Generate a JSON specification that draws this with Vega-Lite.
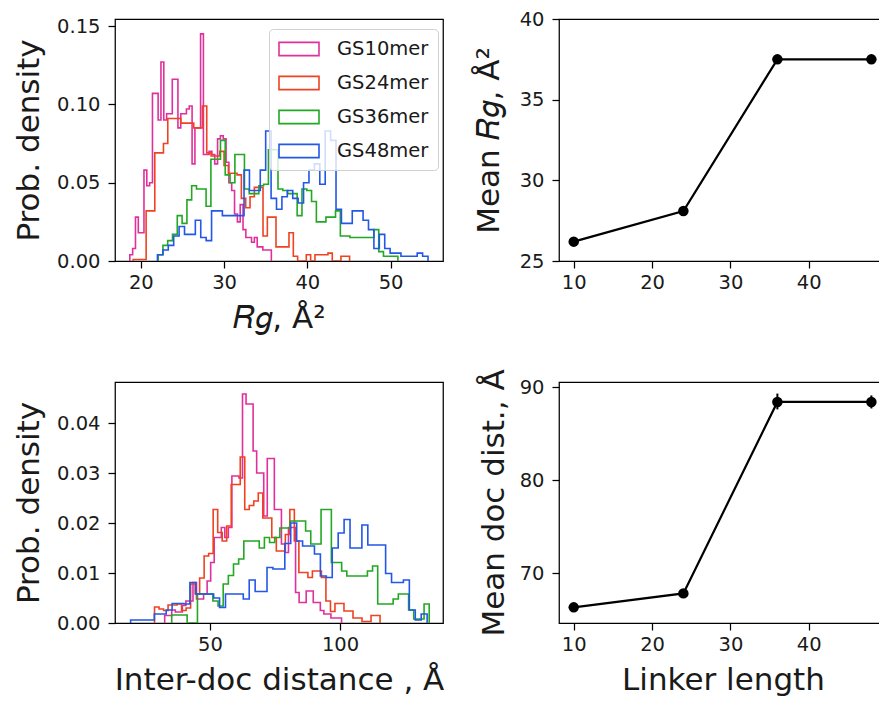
{
  "$schema": "https://vega.github.io/schema/vega-lite/v6.json",
  "padding": {"left": 12, "top": 8, "right": 0, "bottom": 0},
  "background": "white",
  "config": {
    "font": "DejaVu Sans",
    "view": {"stroke": "#000000", "strokeWidth": 1.25},
    "axis": {"domain": false, "grid": false, "ticks": true, "tickColor": "#000000", "tickSize": 7, "tickWidth": 1.25, "labelFontSize": 19.5, "labelColor": "#1a1a1a", "titleFontSize": 31, "titleFontWeight": "normal", "titleColor": "#1a1a1a", "labelFlush": false, "labelOverlap": false, "labelBound": false},
    "axisY": {"labelPadding": 8},
    "axisX": {"labelPadding": 5}
  },
  "datasets": {
    "rg": [
      {"s":"GS10mer","i":0,"x":18.68,"d":0},{"s":"GS10mer","i":1,"x":18.68,"d":0.004},{"s":"GS10mer","i":2,"x":19.02,"d":0.008},{"s":"GS10mer","i":3,"x":19.36,"d":0.028},{"s":"GS10mer","i":4,"x":19.70,"d":0.018},{"s":"GS10mer","i":5,"x":20.04,"d":0.018},{"s":"GS10mer","i":6,"x":20.38,"d":0.058},{"s":"GS10mer","i":7,"x":20.72,"d":0.048},{"s":"GS10mer","i":8,"x":21.06,"d":0.050},{"s":"GS10mer","i":9,"x":21.40,"d":0.107},{"s":"GS10mer","i":10,"x":21.74,"d":0.107},{"s":"GS10mer","i":11,"x":22.08,"d":0.090},{"s":"GS10mer","i":12,"x":22.42,"d":0.127},{"s":"GS10mer","i":13,"x":22.76,"d":0.090},{"s":"GS10mer","i":14,"x":23.10,"d":0.094},{"s":"GS10mer","i":15,"x":23.44,"d":0.094},{"s":"GS10mer","i":16,"x":23.78,"d":0.116},{"s":"GS10mer","i":17,"x":24.12,"d":0.116},{"s":"GS10mer","i":18,"x":24.46,"d":0.085},{"s":"GS10mer","i":19,"x":24.80,"d":0.094},{"s":"GS10mer","i":20,"x":25.14,"d":0.094},{"s":"GS10mer","i":21,"x":25.48,"d":0.097},{"s":"GS10mer","i":22,"x":25.82,"d":0.099},{"s":"GS10mer","i":23,"x":26.16,"d":0.062},{"s":"GS10mer","i":24,"x":26.50,"d":0.085},{"s":"GS10mer","i":25,"x":26.84,"d":0.085},{"s":"GS10mer","i":26,"x":27.18,"d":0.145},{"s":"GS10mer","i":27,"x":27.52,"d":0.068},{"s":"GS10mer","i":28,"x":27.86,"d":0.068},{"s":"GS10mer","i":29,"x":28.20,"d":0.070},{"s":"GS10mer","i":30,"x":28.54,"d":0.068},{"s":"GS10mer","i":31,"x":28.88,"d":0.062},{"s":"GS10mer","i":32,"x":29.22,"d":0.078},{"s":"GS10mer","i":33,"x":29.56,"d":0.080},{"s":"GS10mer","i":34,"x":29.90,"d":0.078},{"s":"GS10mer","i":35,"x":30.24,"d":0.063},{"s":"GS10mer","i":36,"x":30.58,"d":0.050},{"s":"GS10mer","i":37,"x":30.92,"d":0.045},{"s":"GS10mer","i":38,"x":31.26,"d":0.030},{"s":"GS10mer","i":39,"x":31.60,"d":0.025},{"s":"GS10mer","i":40,"x":31.94,"d":0.036},{"s":"GS10mer","i":41,"x":32.28,"d":0.020},{"s":"GS10mer","i":42,"x":32.62,"d":0.015},{"s":"GS10mer","i":43,"x":32.96,"d":0.015},{"s":"GS10mer","i":44,"x":33.30,"d":0.012},{"s":"GS10mer","i":45,"x":33.64,"d":0.015},{"s":"GS10mer","i":46,"x":33.98,"d":0.009},{"s":"GS10mer","i":47,"x":34.32,"d":0.009},{"s":"GS10mer","i":48,"x":34.66,"d":0.007},{"s":"GS10mer","i":49,"x":35.00,"d":0.007},{"s":"GS10mer","i":50,"x":35.34,"d":0.007},{"s":"GS10mer","i":51,"x":35.68,"d":0},
      {"s":"GS24mer","i":0,"x":19.08,"d":0},{"s":"GS24mer","i":1,"x":19.08,"d":0.001},{"s":"GS24mer","i":2,"x":19.60,"d":0.001},{"s":"GS24mer","i":3,"x":20.12,"d":0.001},{"s":"GS24mer","i":4,"x":20.64,"d":0.032},{"s":"GS24mer","i":5,"x":21.16,"d":0.032},{"s":"GS24mer","i":6,"x":21.68,"d":0.069},{"s":"GS24mer","i":7,"x":22.20,"d":0.069},{"s":"GS24mer","i":8,"x":22.72,"d":0.075},{"s":"GS24mer","i":9,"x":23.24,"d":0.091},{"s":"GS24mer","i":10,"x":23.76,"d":0.091},{"s":"GS24mer","i":11,"x":24.28,"d":0.091},{"s":"GS24mer","i":12,"x":24.80,"d":0.088},{"s":"GS24mer","i":13,"x":25.32,"d":0.088},{"s":"GS24mer","i":14,"x":25.84,"d":0.088},{"s":"GS24mer","i":15,"x":26.36,"d":0.085},{"s":"GS24mer","i":16,"x":26.88,"d":0.085},{"s":"GS24mer","i":17,"x":27.40,"d":0.099},{"s":"GS24mer","i":18,"x":27.92,"d":0.069},{"s":"GS24mer","i":19,"x":28.44,"d":0.067},{"s":"GS24mer","i":20,"x":28.96,"d":0.067},{"s":"GS24mer","i":21,"x":29.48,"d":0.070},{"s":"GS24mer","i":22,"x":30.00,"d":0.061},{"s":"GS24mer","i":23,"x":30.52,"d":0.056},{"s":"GS24mer","i":24,"x":31.04,"d":0.056},{"s":"GS24mer","i":25,"x":31.56,"d":0.055},{"s":"GS24mer","i":26,"x":32.08,"d":0.040},{"s":"GS24mer","i":27,"x":32.60,"d":0.034},{"s":"GS24mer","i":28,"x":33.12,"d":0.041},{"s":"GS24mer","i":29,"x":33.64,"d":0.047},{"s":"GS24mer","i":30,"x":34.16,"d":0.047},{"s":"GS24mer","i":31,"x":34.68,"d":0.016},{"s":"GS24mer","i":32,"x":35.20,"d":0.028},{"s":"GS24mer","i":33,"x":35.72,"d":0.028},{"s":"GS24mer","i":34,"x":36.24,"d":0.009},{"s":"GS24mer","i":35,"x":36.76,"d":0.009},{"s":"GS24mer","i":36,"x":37.28,"d":0.009},{"s":"GS24mer","i":37,"x":37.80,"d":0.018},{"s":"GS24mer","i":38,"x":38.32,"d":0.003},{"s":"GS24mer","i":39,"x":38.84,"d":0},{"s":"GS24mer","i":40,"x":39.36,"d":0},{"s":"GS24mer","i":41,"x":39.88,"d":0.004},{"s":"GS24mer","i":42,"x":40.40,"d":0},{"s":"GS24mer","i":43,"x":40.92,"d":0.004},{"s":"GS24mer","i":44,"x":41.44,"d":0.004},{"s":"GS24mer","i":45,"x":41.96,"d":0.004},{"s":"GS24mer","i":46,"x":42.48,"d":0.005},{"s":"GS24mer","i":47,"x":43.00,"d":0},{"s":"GS24mer","i":48,"x":43.52,"d":0},{"s":"GS24mer","i":49,"x":44.04,"d":0.003},{"s":"GS24mer","i":50,"x":44.56,"d":0.003},{"s":"GS24mer","i":51,"x":45.08,"d":0},
      {"s":"GS36mer","i":0,"x":22.08,"d":0},{"s":"GS36mer","i":1,"x":22.08,"d":0.004},{"s":"GS36mer","i":2,"x":22.66,"d":0.010},{"s":"GS36mer","i":3,"x":23.23,"d":0.013},{"s":"GS36mer","i":4,"x":23.81,"d":0.017},{"s":"GS36mer","i":5,"x":24.38,"d":0.029},{"s":"GS36mer","i":6,"x":24.96,"d":0.024},{"s":"GS36mer","i":7,"x":25.54,"d":0.039},{"s":"GS36mer","i":8,"x":26.11,"d":0.048},{"s":"GS36mer","i":9,"x":26.69,"d":0.046},{"s":"GS36mer","i":10,"x":27.26,"d":0.046},{"s":"GS36mer","i":11,"x":27.84,"d":0.035},{"s":"GS36mer","i":12,"x":28.42,"d":0.065},{"s":"GS36mer","i":13,"x":28.99,"d":0.065},{"s":"GS36mer","i":14,"x":29.57,"d":0.077},{"s":"GS36mer","i":15,"x":30.14,"d":0.055},{"s":"GS36mer","i":16,"x":30.72,"d":0.050},{"s":"GS36mer","i":17,"x":31.30,"d":0.068},{"s":"GS36mer","i":18,"x":31.87,"d":0.068},{"s":"GS36mer","i":19,"x":32.45,"d":0.046},{"s":"GS36mer","i":20,"x":33.02,"d":0.043},{"s":"GS36mer","i":21,"x":33.60,"d":0.043},{"s":"GS36mer","i":22,"x":34.18,"d":0.048},{"s":"GS36mer","i":23,"x":34.75,"d":0.049},{"s":"GS36mer","i":24,"x":35.33,"d":0.071},{"s":"GS36mer","i":25,"x":35.90,"d":0.071},{"s":"GS36mer","i":26,"x":36.48,"d":0.046},{"s":"GS36mer","i":27,"x":37.06,"d":0.045},{"s":"GS36mer","i":28,"x":37.63,"d":0.043},{"s":"GS36mer","i":29,"x":38.21,"d":0.043},{"s":"GS36mer","i":30,"x":38.78,"d":0.029},{"s":"GS36mer","i":31,"x":39.36,"d":0.046},{"s":"GS36mer","i":32,"x":39.94,"d":0.045},{"s":"GS36mer","i":33,"x":40.51,"d":0.038},{"s":"GS36mer","i":34,"x":41.09,"d":0.025},{"s":"GS36mer","i":35,"x":41.66,"d":0.025},{"s":"GS36mer","i":36,"x":42.24,"d":0.028},{"s":"GS36mer","i":37,"x":42.82,"d":0.028},{"s":"GS36mer","i":38,"x":43.39,"d":0.032},{"s":"GS36mer","i":39,"x":43.97,"d":0.016},{"s":"GS36mer","i":40,"x":44.54,"d":0.016},{"s":"GS36mer","i":41,"x":45.12,"d":0.015},{"s":"GS36mer","i":42,"x":45.70,"d":0.015},{"s":"GS36mer","i":43,"x":46.27,"d":0.015},{"s":"GS36mer","i":44,"x":46.85,"d":0.015},{"s":"GS36mer","i":45,"x":47.42,"d":0.015},{"s":"GS36mer","i":46,"x":48.00,"d":0.020},{"s":"GS36mer","i":47,"x":48.58,"d":0.006},{"s":"GS36mer","i":48,"x":49.15,"d":0.003},{"s":"GS36mer","i":49,"x":49.73,"d":0.003},{"s":"GS36mer","i":50,"x":50.30,"d":0.003},{"s":"GS36mer","i":51,"x":50.88,"d":0},
      {"s":"GS48mer","i":0,"x":22.00,"d":0},{"s":"GS48mer","i":1,"x":22.00,"d":0.004},{"s":"GS48mer","i":2,"x":22.65,"d":0.007},{"s":"GS48mer","i":3,"x":23.30,"d":0.010},{"s":"GS48mer","i":4,"x":23.95,"d":0.016},{"s":"GS48mer","i":5,"x":24.60,"d":0.022},{"s":"GS48mer","i":6,"x":25.25,"d":0.017},{"s":"GS48mer","i":7,"x":25.90,"d":0.017},{"s":"GS48mer","i":8,"x":26.55,"d":0.026},{"s":"GS48mer","i":9,"x":27.20,"d":0.015},{"s":"GS48mer","i":10,"x":27.85,"d":0.013},{"s":"GS48mer","i":11,"x":28.50,"d":0.032},{"s":"GS48mer","i":12,"x":29.15,"d":0.032},{"s":"GS48mer","i":13,"x":29.80,"d":0.029},{"s":"GS48mer","i":14,"x":30.45,"d":0.029},{"s":"GS48mer","i":15,"x":31.10,"d":0.029},{"s":"GS48mer","i":16,"x":31.75,"d":0.029},{"s":"GS48mer","i":17,"x":32.40,"d":0.058},{"s":"GS48mer","i":18,"x":33.05,"d":0.045},{"s":"GS48mer","i":19,"x":33.70,"d":0.045},{"s":"GS48mer","i":20,"x":34.35,"d":0.058},{"s":"GS48mer","i":21,"x":35.00,"d":0.083},{"s":"GS48mer","i":22,"x":35.65,"d":0.040},{"s":"GS48mer","i":23,"x":36.30,"d":0.033},{"s":"GS48mer","i":24,"x":36.95,"d":0.041},{"s":"GS48mer","i":25,"x":37.60,"d":0.045},{"s":"GS48mer","i":26,"x":38.25,"d":0.040},{"s":"GS48mer","i":27,"x":38.90,"d":0.037},{"s":"GS48mer","i":28,"x":39.55,"d":0.050},{"s":"GS48mer","i":29,"x":40.20,"d":0.058},{"s":"GS48mer","i":30,"x":40.85,"d":0.062},{"s":"GS48mer","i":31,"x":41.50,"d":0.049},{"s":"GS48mer","i":32,"x":42.15,"d":0.083},{"s":"GS48mer","i":33,"x":42.80,"d":0.077},{"s":"GS48mer","i":34,"x":43.45,"d":0.033},{"s":"GS48mer","i":35,"x":44.10,"d":0.024},{"s":"GS48mer","i":36,"x":44.75,"d":0.024},{"s":"GS48mer","i":37,"x":45.40,"d":0.032},{"s":"GS48mer","i":38,"x":46.05,"d":0.032},{"s":"GS48mer","i":39,"x":46.70,"d":0.026},{"s":"GS48mer","i":40,"x":47.35,"d":0.020},{"s":"GS48mer","i":41,"x":48.00,"d":0.008},{"s":"GS48mer","i":42,"x":48.65,"d":0.017},{"s":"GS48mer","i":43,"x":49.30,"d":0.008},{"s":"GS48mer","i":44,"x":49.95,"d":0.005},{"s":"GS48mer","i":45,"x":50.60,"d":0.005},{"s":"GS48mer","i":46,"x":51.25,"d":0.003},{"s":"GS48mer","i":47,"x":51.90,"d":0.003},{"s":"GS48mer","i":48,"x":52.55,"d":0.003},{"s":"GS48mer","i":49,"x":53.20,"d":0.005},{"s":"GS48mer","i":50,"x":53.85,"d":0.003},{"s":"GS48mer","i":51,"x":54.50,"d":0}
    ],
    "dd": [
      {"s":"GS10mer","i":0,"x":32.60,"d":0},{"s":"GS10mer","i":1,"x":32.60,"d":0.0015},{"s":"GS10mer","i":2,"x":33.96,"d":0.0015},{"s":"GS10mer","i":3,"x":35.32,"d":0.0026},{"s":"GS10mer","i":4,"x":36.68,"d":0.0022},{"s":"GS10mer","i":5,"x":38.04,"d":0.0022},{"s":"GS10mer","i":6,"x":39.40,"d":0.0035},{"s":"GS10mer","i":7,"x":40.76,"d":0.0044},{"s":"GS10mer","i":8,"x":42.12,"d":0.0044},{"s":"GS10mer","i":9,"x":43.48,"d":0.0081},{"s":"GS10mer","i":10,"x":44.84,"d":0.0048},{"s":"GS10mer","i":11,"x":46.20,"d":0.0048},{"s":"GS10mer","i":12,"x":47.56,"d":0.0058},{"s":"GS10mer","i":13,"x":48.92,"d":0.0084},{"s":"GS10mer","i":14,"x":50.28,"d":0.0121},{"s":"GS10mer","i":15,"x":51.64,"d":0.0171},{"s":"GS10mer","i":16,"x":53.00,"d":0.0171},{"s":"GS10mer","i":17,"x":54.36,"d":0.0191},{"s":"GS10mer","i":18,"x":55.72,"d":0.0171},{"s":"GS10mer","i":19,"x":57.08,"d":0.0191},{"s":"GS10mer","i":20,"x":58.44,"d":0.0294},{"s":"GS10mer","i":21,"x":59.80,"d":0.0294},{"s":"GS10mer","i":22,"x":61.16,"d":0.029},{"s":"GS10mer","i":23,"x":62.52,"d":0.0458},{"s":"GS10mer","i":24,"x":63.88,"d":0.0438},{"s":"GS10mer","i":25,"x":65.24,"d":0.0438},{"s":"GS10mer","i":26,"x":66.60,"d":0.0344},{"s":"GS10mer","i":27,"x":67.96,"d":0.030},{"s":"GS10mer","i":28,"x":69.32,"d":0.030},{"s":"GS10mer","i":29,"x":70.68,"d":0.0214},{"s":"GS10mer","i":30,"x":72.04,"d":0.0329},{"s":"GS10mer","i":31,"x":73.40,"d":0.0329},{"s":"GS10mer","i":32,"x":74.76,"d":0.0227},{"s":"GS10mer","i":33,"x":76.12,"d":0.0227},{"s":"GS10mer","i":34,"x":77.48,"d":0.0158},{"s":"GS10mer","i":35,"x":78.84,"d":0.0141},{"s":"GS10mer","i":36,"x":80.20,"d":0.0191},{"s":"GS10mer","i":37,"x":81.56,"d":0.0191},{"s":"GS10mer","i":38,"x":82.92,"d":0.0061},{"s":"GS10mer","i":39,"x":84.28,"d":0.0041},{"s":"GS10mer","i":40,"x":85.64,"d":0.0041},{"s":"GS10mer","i":41,"x":87.00,"d":0.0064},{"s":"GS10mer","i":42,"x":88.36,"d":0.0064},{"s":"GS10mer","i":43,"x":89.72,"d":0.0041},{"s":"GS10mer","i":44,"x":91.08,"d":0.0041},{"s":"GS10mer","i":45,"x":92.44,"d":0.0025},{"s":"GS10mer","i":46,"x":93.80,"d":0.0018},{"s":"GS10mer","i":47,"x":95.16,"d":0.0018},{"s":"GS10mer","i":48,"x":96.52,"d":0.001},{"s":"GS10mer","i":49,"x":97.88,"d":0.001},{"s":"GS10mer","i":50,"x":99.24,"d":0.001},{"s":"GS10mer","i":51,"x":100.60,"d":0},
      {"s":"GS24mer","i":0,"x":28.70,"d":0},{"s":"GS24mer","i":1,"x":28.70,"d":0.0032},{"s":"GS24mer","i":2,"x":30.43,"d":0.0028},{"s":"GS24mer","i":3,"x":32.17,"d":0.0025},{"s":"GS24mer","i":4,"x":33.90,"d":0.0036},{"s":"GS24mer","i":5,"x":35.64,"d":0.0036},{"s":"GS24mer","i":6,"x":37.37,"d":0.0038},{"s":"GS24mer","i":7,"x":39.10,"d":0.0025},{"s":"GS24mer","i":8,"x":40.84,"d":0.0030},{"s":"GS24mer","i":9,"x":42.57,"d":0.0078},{"s":"GS24mer","i":10,"x":44.31,"d":0.0058},{"s":"GS24mer","i":11,"x":46.04,"d":0.009},{"s":"GS24mer","i":12,"x":47.77,"d":0.0134},{"s":"GS24mer","i":13,"x":49.51,"d":0.0139},{"s":"GS24mer","i":14,"x":51.24,"d":0.0227},{"s":"GS24mer","i":15,"x":52.98,"d":0.0181},{"s":"GS24mer","i":16,"x":54.71,"d":0.0164},{"s":"GS24mer","i":17,"x":56.44,"d":0.0194},{"s":"GS24mer","i":18,"x":58.18,"d":0.0277},{"s":"GS24mer","i":19,"x":59.91,"d":0.0277},{"s":"GS24mer","i":20,"x":61.65,"d":0.0332},{"s":"GS24mer","i":21,"x":63.38,"d":0.0227},{"s":"GS24mer","i":22,"x":65.11,"d":0.0235},{"s":"GS24mer","i":23,"x":66.85,"d":0.0244},{"s":"GS24mer","i":24,"x":68.58,"d":0.026},{"s":"GS24mer","i":25,"x":70.32,"d":0.021},{"s":"GS24mer","i":26,"x":72.05,"d":0.021},{"s":"GS24mer","i":27,"x":73.78,"d":0.0171},{"s":"GS24mer","i":28,"x":75.52,"d":0.0144},{"s":"GS24mer","i":29,"x":77.25,"d":0.0144},{"s":"GS24mer","i":30,"x":78.99,"d":0.0177},{"s":"GS24mer","i":31,"x":80.72,"d":0.0227},{"s":"GS24mer","i":32,"x":82.45,"d":0.0164},{"s":"GS24mer","i":33,"x":84.19,"d":0.0101},{"s":"GS24mer","i":34,"x":85.92,"d":0.0101},{"s":"GS24mer","i":35,"x":87.66,"d":0.0091},{"s":"GS24mer","i":36,"x":89.39,"d":0.0104},{"s":"GS24mer","i":37,"x":91.12,"d":0.0104},{"s":"GS24mer","i":38,"x":92.86,"d":0.0091},{"s":"GS24mer","i":39,"x":94.59,"d":0.0044},{"s":"GS24mer","i":40,"x":96.33,"d":0.0023},{"s":"GS24mer","i":41,"x":98.06,"d":0.0039},{"s":"GS24mer","i":42,"x":99.79,"d":0.0039},{"s":"GS24mer","i":43,"x":101.53,"d":0.0024},{"s":"GS24mer","i":44,"x":103.26,"d":0.0024},{"s":"GS24mer","i":45,"x":105.00,"d":0.001},{"s":"GS24mer","i":46,"x":106.73,"d":0.001},{"s":"GS24mer","i":47,"x":108.46,"d":0.0003},{"s":"GS24mer","i":48,"x":110.20,"d":0.0003},{"s":"GS24mer","i":49,"x":111.93,"d":0.0015},{"s":"GS24mer","i":50,"x":113.67,"d":0.0015},{"s":"GS24mer","i":51,"x":115.40,"d":0},
      {"s":"GS36mer","i":0,"x":35.30,"d":0},{"s":"GS36mer","i":1,"x":35.30,"d":0.0016},{"s":"GS36mer","i":2,"x":37.28,"d":0.0016},{"s":"GS36mer","i":3,"x":39.26,"d":0.0016},{"s":"GS36mer","i":4,"x":41.24,"d":0},{"s":"GS36mer","i":5,"x":43.22,"d":0},{"s":"GS36mer","i":6,"x":45.20,"d":0.0058},{"s":"GS36mer","i":7,"x":47.18,"d":0.0058},{"s":"GS36mer","i":8,"x":49.16,"d":0.0058},{"s":"GS36mer","i":9,"x":51.14,"d":0.0044},{"s":"GS36mer","i":10,"x":53.12,"d":0.0034},{"s":"GS36mer","i":11,"x":55.10,"d":0.0078},{"s":"GS36mer","i":12,"x":57.08,"d":0.0095},{"s":"GS36mer","i":13,"x":59.06,"d":0.0118},{"s":"GS36mer","i":14,"x":61.04,"d":0.0128},{"s":"GS36mer","i":15,"x":63.02,"d":0.0164},{"s":"GS36mer","i":16,"x":65.00,"d":0.0164},{"s":"GS36mer","i":17,"x":66.98,"d":0.0164},{"s":"GS36mer","i":18,"x":68.96,"d":0.015},{"s":"GS36mer","i":19,"x":70.94,"d":0.0171},{"s":"GS36mer","i":20,"x":72.92,"d":0.0161},{"s":"GS36mer","i":21,"x":74.90,"d":0.0171},{"s":"GS36mer","i":22,"x":76.88,"d":0.019},{"s":"GS36mer","i":23,"x":78.86,"d":0.019},{"s":"GS36mer","i":24,"x":80.84,"d":0.0204},{"s":"GS36mer","i":25,"x":82.82,"d":0.0204},{"s":"GS36mer","i":26,"x":84.80,"d":0.0204},{"s":"GS36mer","i":27,"x":86.78,"d":0.0184},{"s":"GS36mer","i":28,"x":88.76,"d":0.0158},{"s":"GS36mer","i":29,"x":90.74,"d":0.0158},{"s":"GS36mer","i":30,"x":92.72,"d":0.0227},{"s":"GS36mer","i":31,"x":94.70,"d":0.0227},{"s":"GS36mer","i":32,"x":96.68,"d":0.0121},{"s":"GS36mer","i":33,"x":98.66,"d":0.0121},{"s":"GS36mer","i":34,"x":100.64,"d":0.0104},{"s":"GS36mer","i":35,"x":102.62,"d":0.0094},{"s":"GS36mer","i":36,"x":104.60,"d":0.0094},{"s":"GS36mer","i":37,"x":106.58,"d":0.0094},{"s":"GS36mer","i":38,"x":108.56,"d":0.0094},{"s":"GS36mer","i":39,"x":110.54,"d":0.0104},{"s":"GS36mer","i":40,"x":112.52,"d":0.0114},{"s":"GS36mer","i":41,"x":114.50,"d":0.0038},{"s":"GS36mer","i":42,"x":116.48,"d":0.0038},{"s":"GS36mer","i":43,"x":118.46,"d":0.0038},{"s":"GS36mer","i":44,"x":120.44,"d":0.0048},{"s":"GS36mer","i":45,"x":122.42,"d":0.0058},{"s":"GS36mer","i":46,"x":124.40,"d":0.0058},{"s":"GS36mer","i":47,"x":126.38,"d":0.0026},{"s":"GS36mer","i":48,"x":128.36,"d":0.0008},{"s":"GS36mer","i":49,"x":130.34,"d":0.0008},{"s":"GS36mer","i":50,"x":132.32,"d":0.0038},{"s":"GS36mer","i":51,"x":134.30,"d":0},
      {"s":"GS48mer","i":0,"x":19.50,"d":0},{"s":"GS48mer","i":1,"x":19.50,"d":0.0006},{"s":"GS48mer","i":2,"x":21.78,"d":0.0006},{"s":"GS48mer","i":3,"x":24.06,"d":0.0006},{"s":"GS48mer","i":4,"x":26.34,"d":0.0006},{"s":"GS48mer","i":5,"x":28.62,"d":0.0018},{"s":"GS48mer","i":6,"x":30.90,"d":0.0018},{"s":"GS48mer","i":7,"x":33.18,"d":0.0026},{"s":"GS48mer","i":8,"x":35.46,"d":0.0039},{"s":"GS48mer","i":9,"x":37.74,"d":0.0039},{"s":"GS48mer","i":10,"x":40.02,"d":0.0038},{"s":"GS48mer","i":11,"x":42.30,"d":0.0081},{"s":"GS48mer","i":12,"x":44.58,"d":0.0058},{"s":"GS48mer","i":13,"x":46.86,"d":0.0058},{"s":"GS48mer","i":14,"x":49.14,"d":0.0058},{"s":"GS48mer","i":15,"x":51.42,"d":0.005},{"s":"GS48mer","i":16,"x":53.70,"d":0.0031},{"s":"GS48mer","i":17,"x":55.98,"d":0.0058},{"s":"GS48mer","i":18,"x":58.26,"d":0.0058},{"s":"GS48mer","i":19,"x":60.54,"d":0.0058},{"s":"GS48mer","i":20,"x":62.82,"d":0.0048},{"s":"GS48mer","i":21,"x":65.10,"d":0.0086},{"s":"GS48mer","i":22,"x":67.38,"d":0.0063},{"s":"GS48mer","i":23,"x":69.66,"d":0.0063},{"s":"GS48mer","i":24,"x":71.94,"d":0.0111},{"s":"GS48mer","i":25,"x":74.22,"d":0.0108},{"s":"GS48mer","i":26,"x":76.50,"d":0.0108},{"s":"GS48mer","i":27,"x":78.78,"d":0.0159},{"s":"GS48mer","i":28,"x":81.06,"d":0.020},{"s":"GS48mer","i":29,"x":83.34,"d":0.0164},{"s":"GS48mer","i":30,"x":85.62,"d":0.0154},{"s":"GS48mer","i":31,"x":87.90,"d":0.0154},{"s":"GS48mer","i":32,"x":90.18,"d":0.0138},{"s":"GS48mer","i":33,"x":92.46,"d":0.0094},{"s":"GS48mer","i":34,"x":94.74,"d":0.0091},{"s":"GS48mer","i":35,"x":97.02,"d":0.015},{"s":"GS48mer","i":36,"x":99.30,"d":0.018},{"s":"GS48mer","i":37,"x":101.58,"d":0.0207},{"s":"GS48mer","i":38,"x":103.86,"d":0.015},{"s":"GS48mer","i":39,"x":106.14,"d":0.015},{"s":"GS48mer","i":40,"x":108.42,"d":0.0196},{"s":"GS48mer","i":41,"x":110.70,"d":0.0156},{"s":"GS48mer","i":42,"x":112.98,"d":0.0156},{"s":"GS48mer","i":43,"x":115.26,"d":0.0156},{"s":"GS48mer","i":44,"x":117.54,"d":0.0099},{"s":"GS48mer","i":45,"x":119.82,"d":0.0081},{"s":"GS48mer","i":46,"x":122.10,"d":0.0081},{"s":"GS48mer","i":47,"x":124.38,"d":0.0086},{"s":"GS48mer","i":48,"x":126.66,"d":0.0026},{"s":"GS48mer","i":49,"x":128.94,"d":0.0006},{"s":"GS48mer","i":50,"x":131.22,"d":0.0018},{"s":"GS48mer","i":51,"x":133.50,"d":0}
    ],
    "mrg": [
      {"L":10,"m":26.2,"lo":26.1,"hi":26.3},{"L":24,"m":28.1,"lo":28.0,"hi":28.2},{"L":36,"m":37.5,"lo":37.4,"hi":37.6},{"L":48,"m":37.5,"lo":37.4,"hi":37.6}
    ],
    "mdd": [
      {"L":10,"m":66.35,"lo":66.2,"hi":66.5},{"L":24,"m":67.85,"lo":67.7,"hi":68.0},{"L":36,"m":88.4,"lo":87.6,"hi":89.3},{"L":48,"m":88.4,"lo":87.7,"hi":89.1}
    ]
  },
  "resolve": {"scale": {"color": "independent"}, "legend": {"color": "independent"}},
  "bounds": "flush",
  "columns": 2,
  "spacing": {"row": 121, "column": 116},
  "concat": [
    {
      "width": 328, "height": 242,
      "data": {"name": "rg"},
      "mark": {"type": "line", "interpolate": "step-after", "strokeWidth": 1.6, "clip": true},
      "encoding": {
        "x": {"field": "x", "type": "quantitative", "scale": {"domain": [16.9, 56.3], "nice": false, "zero": false}, "axis": {"values": [20, 30, 40, 50], "title": "𝑅𝑔, Å²", "titlePadding": 12}},
        "y": {"field": "d", "type": "quantitative", "scale": {"domain": [0, 0.1545], "nice": false}, "axis": {"values": [0, 0.05, 0.1, 0.15], "format": ".2f", "title": "Prob. density", "titlePadding": 11}},
        "color": {"field": "s", "type": "nominal", "scale": {"domain": ["GS10mer", "GS24mer", "GS36mer", "GS48mer"], "range": ["#e0309c", "#ee4220", "#22a822", "#2257e8"]},
          "legend": {"orient": "none", "legendX": 154, "legendY": 10, "title": null, "symbolType": "M-1,-0.66H3V0.66H-1Z", "symbolSize": 400, "symbolStrokeWidth": 1.6, "symbolFillColor": "transparent", "labelFontSize": 19.5, "labelColor": "#1a1a1a", "labelOffset": 37, "rowPadding": 13, "padding": 9, "fillColor": "rgba(255,255,255,0.8)", "strokeColor": "#d0d0d0", "cornerRadius": 4}},
        "order": {"field": "i", "type": "quantitative"}
      }
    },
    {
      "width": 321, "height": 242,
      "data": {"name": "mrg"},
      "encoding": {
        "x": {"field": "L", "type": "quantitative", "scale": {"domain": [8.12, 49.1], "nice": false, "zero": false}, "axis": {"values": [10, 20, 30, 40], "title": null}},
        "y": {"field": "m", "type": "quantitative", "scale": {"domain": [25, 40], "nice": false, "zero": false}, "axis": {"values": [25, 30, 35, 40], "title": "Mean 𝑅𝑔, Å²", "titlePadding": 14}}
      },
      "layer": [
        {"mark": {"type": "line", "color": "#000000", "strokeWidth": 2.2}},
        {"mark": {"type": "rule", "color": "#000000", "strokeWidth": 1.5}, "encoding": {"y": {"field": "lo", "type": "quantitative"}, "y2": {"field": "hi"}}},
        {"mark": {"type": "point", "filled": true, "color": "#000000", "size": 110, "opacity": 1}}
      ]
    },
    {
      "width": 328, "height": 241,
      "data": {"name": "dd"},
      "mark": {"type": "line", "interpolate": "step-after", "strokeWidth": 1.6, "clip": true},
      "encoding": {
        "x": {"field": "x", "type": "quantitative", "scale": {"domain": [13.5, 139.6], "nice": false, "zero": false}, "axis": {"values": [50, 100], "title": "Inter-doc distance , Å", "titlePadding": 12}},
        "y": {"field": "d", "type": "quantitative", "scale": {"domain": [0, 0.0482], "nice": false}, "axis": {"values": [0, 0.01, 0.02, 0.03, 0.04], "format": ".2f", "title": "Prob. density", "titlePadding": 11}},
        "color": {"field": "s", "type": "nominal", "scale": {"domain": ["GS10mer", "GS24mer", "GS36mer", "GS48mer"], "range": ["#e0309c", "#ee4220", "#22a822", "#2257e8"]}, "legend": null},
        "order": {"field": "i", "type": "quantitative"}
      }
    },
    {
      "width": 321, "height": 241,
      "data": {"name": "mdd"},
      "encoding": {
        "x": {"field": "L", "type": "quantitative", "scale": {"domain": [8.12, 49.1], "nice": false, "zero": false}, "axis": {"values": [10, 20, 30, 40], "title": "Linker length", "titlePadding": 12, "titleX": 164}},
        "y": {"field": "m", "type": "quantitative", "scale": {"domain": [64.67, 90.54], "nice": false, "zero": false}, "axis": {"values": [70, 80, 90], "title": "Mean doc dist., Å", "titlePadding": 9}}
      },
      "layer": [
        {"mark": {"type": "line", "color": "#000000", "strokeWidth": 2.2}},
        {"mark": {"type": "rule", "color": "#000000", "strokeWidth": 2}, "encoding": {"y": {"field": "lo", "type": "quantitative"}, "y2": {"field": "hi"}}},
        {"mark": {"type": "point", "filled": true, "color": "#000000", "size": 110, "opacity": 1}}
      ]
    }
  ]
}
